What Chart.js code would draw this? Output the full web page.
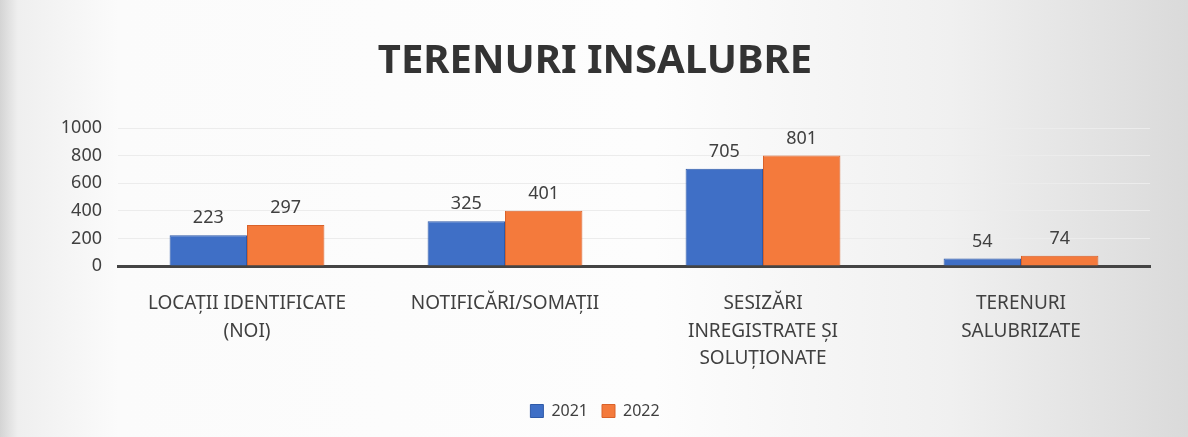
<!DOCTYPE html>
<html>
<head>
<meta charset="utf-8">
<script src="https://cdn.jsdelivr.net/npm/chart.js@4.4.1/dist/chart.umd.min.js"></script>
<style>
  html, body { margin: 0; padding: 0; }
  body {
    width: 1188px; height: 437px; overflow: hidden;
    background: linear-gradient(to right, #d4d4d4 0%, #efefef 1.5%, #fbfbfb 10%, #fdfdfd 55%, #f0f0f0 80%, #dadada 100%);
  }
  canvas { display: block; }
</style>
</head>
<body>
<canvas id="grafica" width="1188" height="437"></canvas>
<script>
const categorii = [
    ["LOCAȚII IDENTIFICATE", "(NOI)"],
    "NOTIFICĂRI/SOMAȚII",
    ["SESIZĂRI", "INREGISTRATE ȘI", "SOLUȚIONATE"],
    ["TERENURI", "SALUBRIZATE"]
];
const valori2021 = [223, 325, 705, 54];
const valori2022 = [297, 401, 801, 74];
const valoriAxa = [0, 200, 400, 600, 800, 1000];

const font = '"Noto Sans", "DejaVu Sans", sans-serif';

// etichete cu valoarea deasupra barelor
const eticheteValori = {
    id: 'eticheteValori',
    afterDatasetsDraw(chart) {
        const ctx = chart.ctx;
        ctx.save();
        ctx.font = '18px ' + font;
        ctx.fillStyle = '#404040';
        ctx.textAlign = 'center';
        ctx.textBaseline = 'bottom';
        chart.data.datasets.forEach((ds, i) => {
            chart.getDatasetMeta(i).data.forEach((bar, j) => {
                ctx.fillText(ds.data[j], bar.x, bar.y - 8);
            });
        });
        ctx.restore();
    }
};

new Chart(document.querySelector('#grafica'), {
    type: 'bar',
    data: {
        labels: categorii,
        datasets: [
            {
                label: '2021',
                data: valori2021,
                backgroundColor: '#3f6fc6',
                borderColor: '#2f5aa8',
                borderWidth: 1,
                categoryPercentage: 0.6,
                barPercentage: 1.0
            },
            {
                label: '2022',
                data: valori2022,
                backgroundColor: '#f47a3c',
                borderColor: '#d9622a',
                borderWidth: 1,
                categoryPercentage: 0.6,
                barPercentage: 1.0
            }
        ]
    },
    options: {
        responsive: false,
        animation: false,
        devicePixelRatio: 1,
        layout: { padding: { left: 40, right: 38, top: 0, bottom: 8 } },
        plugins: {
            title: {
                display: true,
                text: 'TERENURI INSALUBRE',
                color: '#333333',
                font: { family: font, size: 40, weight: 'bold' },
                padding: { top: 38, bottom: 42 }
            },
            legend: {
                position: 'bottom',
                labels: {
                    color: '#404040',
                    font: { family: font, size: 16 },
                    boxWidth: 13,
                    boxHeight: 13,
                    padding: 14
                }
            },
            tooltip: { enabled: false }
        },
        scales: {
            x: {
                grid: { display: false },
                border: { color: '#444444', width: 3 },
                ticks: {
                    color: '#404040',
                    font: { family: font, size: 19, lineHeight: 1.45 },
                    maxRotation: 0,
                    autoSkip: false,
                    padding: 16
                },
                afterFit(scale) { scale.height = 123; }
            },
            y: {
                min: 0,
                max: 1000,
                afterBuildTicks(scale) { scale.ticks = valoriAxa.map(v => ({ value: v })); },
                grid: { color: '#ececec', drawTicks: false },
                border: { display: false },
                ticks: {
                    color: '#404040',
                    font: { family: font, size: 18 },
                    padding: 16,
                    callback: v => String(v)
                },
                afterFit(scale) { scale.width = 78; }
            }
        }
    },
    plugins: [eticheteValori]
});
</script>
</body>
</html>
